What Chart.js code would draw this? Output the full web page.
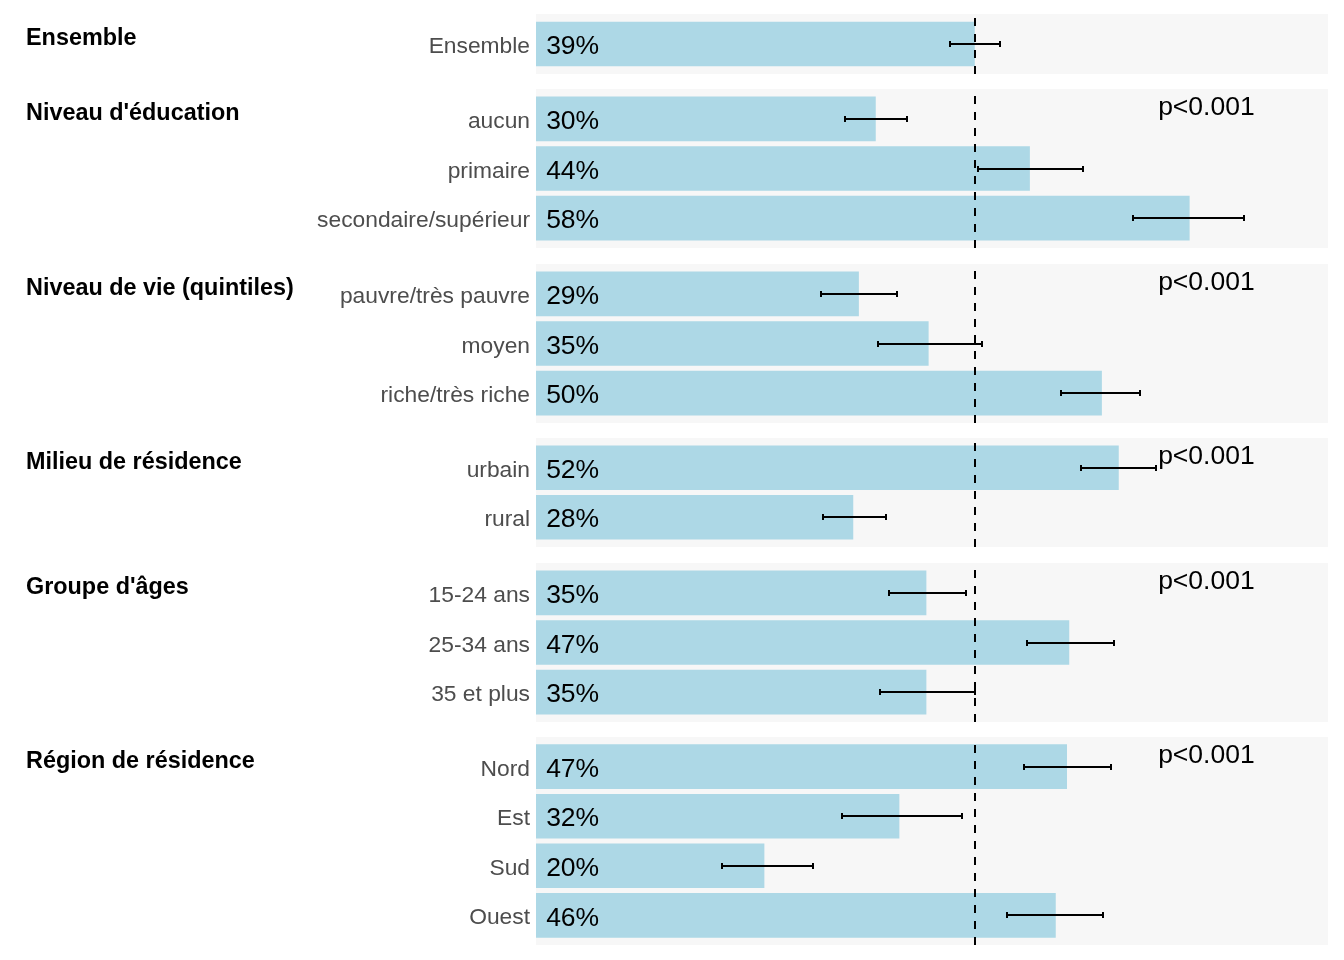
<!DOCTYPE html>
<html>
<head>
<meta charset="utf-8">
<script src="https://cdn.jsdelivr.net/npm/chart.js@4.4.1/dist/chart.umd.min.js"></script>
<style>
  html, body { margin: 0; padding: 0; background: #fff; }
  #wrap { position: relative; width: 1344px; height: 960px; }
  #wrap canvas { position: absolute; left: 0; }
</style>
</head>
<body>
<div id="wrap"></div>
<script>
const groups = ["Ensemble", "Niveau d'éducation", "Niveau de vie (quintiles)",
  "Milieu de résidence", "Groupe d'âges", "Région de résidence"];
const categories = [
  ["Ensemble"],
  ["aucun", "primaire", "secondaire/supérieur"],
  ["pauvre/très pauvre", "moyen", "riche/très riche"],
  ["urbain", "rural"],
  ["15-24 ans", "25-34 ans", "35 et plus"],
  ["Nord", "Est", "Sud", "Ouest"]
];
const values = [[39.0], [30.2, 43.9, 58.1], [28.7, 34.9, 50.3], [51.8, 28.2],
  [34.7, 47.4, 34.7], [47.2, 32.3, 20.3, 46.2]];
const lower = [[36.8], [27.5, 39.3, 53.1], [25.3, 30.4, 46.7], [48.4, 25.5],
  [31.4, 43.6, 30.6], [43.4, 27.2, 16.5, 41.9]];
const upper = [[41.2], [33.0, 48.6, 62.9], [32.1, 39.6, 53.7], [55.1, 31.1],
  [38.2, 51.4, 39.0], [51.1, 37.9, 24.6, 50.4]];
const pValues = ["", "p<0.001", "p<0.001", "p<0.001", "p<0.001", "p<0.001"];
const overall = 39.0;

const FONT = '"Liberation Sans", Arial, sans-serif';
const U = 49.6, GAP = 15.4, TOP = 14;
const AXIS_LEFT = 536, AXIS_RIGHT = 1328;
const X_MAX = 70.4;

Chart.defaults.font.family = FONT;

// panel background, reference line, error bars and texts
const panelPlugin = {
  id: 'panel',
  beforeDatasetsDraw(chart, args, opts) {
    const {ctx, chartArea, height} = chart;
    ctx.save();
    ctx.fillStyle = '#f7f7f7';
    ctx.fillRect(chartArea.left, 0, chartArea.right - chartArea.left, height);
    ctx.restore();
  },
  afterDatasetsDraw(chart, args, opts) {
    const {ctx, height, scales: {x, y}} = chart;
    const k = opts.index;
    ctx.save();
    ctx.strokeStyle = '#000';
    ctx.lineWidth = 2;
    ctx.setLineDash([8, 8]);
    const xo = Math.round(x.getPixelForValue(overall));
    ctx.beginPath();
    ctx.moveTo(xo, height);
    ctx.lineTo(xo, 0);
    ctx.stroke();
    ctx.setLineDash([]);

    ctx.lineWidth = 2;
    values[k].forEach((v, i) => {
      const yc = Math.round(y.getPixelForValue(i));
      const x1 = Math.round(x.getPixelForValue(lower[k][i]));
      const x2 = Math.round(x.getPixelForValue(upper[k][i]));
      ctx.beginPath();
      ctx.moveTo(x1, yc); ctx.lineTo(x2, yc);
      ctx.moveTo(x1, yc - 3); ctx.lineTo(x1, yc + 3);
      ctx.moveTo(x2, yc - 3); ctx.lineTo(x2, yc + 3);
      ctx.stroke();
    });

    ctx.fillStyle = '#000';
    ctx.font = `26.5px ${FONT}`;
    ctx.textAlign = 'left';
    ctx.textBaseline = 'middle';
    values[k].forEach((v, i) => {
      ctx.fillText(Math.round(v) + '%', x.getPixelForValue(0.9), y.getPixelForValue(i) + 2.8);
    });

    ctx.textBaseline = 'alphabetic';
    if (pValues[k]) {
      ctx.fillText(pValues[k], x.getPixelForValue(55.3), 26.3);
    }
    ctx.font = `bold 23.4px ${FONT}`;
    ctx.fillText(groups[k], 26, 30.5);
    ctx.restore();
  }
};

const wrap = document.getElementById('wrap');
let panelTop = TOP;
groups.forEach((g, k) => {
  const n = categories[k].length;
  const h = Math.round((n + 0.2) * U);
  const pad = (h - n * U) / 2;
  const canvas = document.createElement('canvas');
  canvas.width = 1344;
  canvas.height = h;
  canvas.style.top = Math.round(panelTop) + 'px';
  canvas.style.width = '1344px';
  canvas.style.height = h + 'px';
  wrap.appendChild(canvas);

  new Chart(canvas, {
    type: 'bar',
    data: {
      labels: categories[k],
      datasets: [{
        data: values[k],
        backgroundColor: '#add8e6',
        categoryPercentage: 0.9,
        barPercentage: 1.0
      }]
    },
    options: {
      indexAxis: 'y',
      responsive: false,
      animation: false,
      layout: { padding: { top: pad, bottom: pad, left: 0, right: 1344 - AXIS_RIGHT } },
      scales: {
        x: { display: false, min: 0, max: X_MAX },
        y: {
          grid: { display: false, drawTicks: false },
          border: { display: false },
          ticks: { padding: 6, color: '#4d4d4d', labelOffset: 2.8, font: { family: FONT, size: 22.8 } },
          afterFit: (scale) => {
            scale.width = AXIS_LEFT;
            scale.paddingTop = 0;
            scale.paddingBottom = 0;
          }
        }
      },
      plugins: {
        legend: { display: false },
        tooltip: { enabled: false },
        panel: { index: k }
      }
    },
    plugins: [panelPlugin]
  });
  panelTop += h + GAP;
});
</script>
</body>
</html>
